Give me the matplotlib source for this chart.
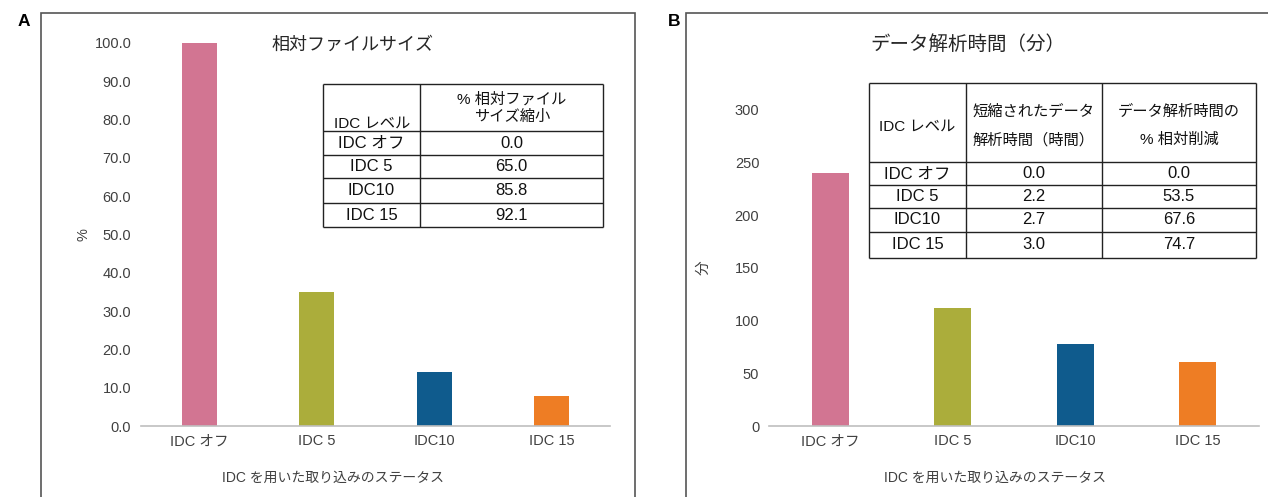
import matplotlib
matplotlib.use("Agg")
import matplotlib.pyplot as plt
from matplotlib.patches import Rectangle

plt.rcParams["font.family"] = ["Liberation Sans", "Noto Sans CJK JP", "DejaVu Sans"]

W, H = 1268, 497

# --- data -------------------------------------------------------------
categories = ["IDC オフ", "IDC 5", "IDC10", "IDC 15"]
bar_colors = ["#D27592", "#ABAD3B", "#0F5B8D", "#EE7D24"]

# A: relative file size (%)
size_pct = [100.0, 35.0, 14.2, 7.9]
size_reduction = ["0.0", "65.0", "85.8", "92.1"]
size_ticks = [0, 10, 20, 30, 40, 50, 60, 70, 80, 90, 100]

# B: data analysis time (min)
time_min = [240.0, 111.6, 77.8, 60.7]
time_saved_h = ["0.0", "2.2", "2.7", "3.0"]
time_reduction = ["0.0", "53.5", "67.6", "74.7"]
time_ticks = [0, 50, 100, 150, 200, 250, 300]

xlabel = "IDC を用いた取り込みのステータス"


def px_axes(fig, x0, y0, x1, y1, **kw):
    """Axes placed by pixel box (top-left origin)."""
    return fig.add_axes([x0 / W, 1 - y1 / H, (x1 - x0) / W, (y1 - y0) / H], **kw)


def bar_panel(ax, values, ymax, ticks, fmt):
    x = range(len(values))
    ax.bar(x, values, width=0.3, color=bar_colors)
    ax.set_xlim(-0.5, len(values) - 0.5)
    ax.set_ylim(0, ymax)
    ax.set_yticks(ticks)
    ax.set_yticklabels([fmt.format(t) for t in ticks])
    ax.set_xticks(list(x))
    ax.set_xticklabels(categories)
    for s in ("top", "right", "left"):
        ax.spines[s].set_visible(False)
    ax.spines["bottom"].set_color("#BFBFBF")
    ax.spines["bottom"].set_linewidth(1.2)
    ax.tick_params(length=0, labelsize=10.5, colors="#404040")
    ax.tick_params(axis="y", pad=7)
    ax.tick_params(axis="x", pad=6)
    ax.patch.set_alpha(0)


def draw_table(fig, box, col_edges, row_edges, header, rows):
    x0, y0, x1, y1 = box
    ax = px_axes(fig, x0, y0, x1, y1)
    ax.set_xlim(x0, x1)
    ax.set_ylim(y1, y0)
    ax.axis("off")
    lw = 1.0
    ax.hlines(row_edges, x0, x1, color="#222222", lw=lw, clip_on=False)
    ax.vlines(col_edges, y0, y1, color="#222222", lw=lw, clip_on=False)
    # header: list of (x, y, text)
    for hx, hy, txt in header:
        ax.text(hx, hy, txt, ha="center", va="center", fontsize=11, color="#111111")
    centers = [(col_edges[i] + col_edges[i + 1]) / 2 for i in range(len(col_edges) - 1)]
    for r, row in enumerate(rows):
        cy = (row_edges[r + 1] + row_edges[r + 2]) / 2
        for c, txt in enumerate(row):
            ax.text(centers[c], cy, txt, ha="center", va="center", fontsize=12, color="#111111")


fig = plt.figure(figsize=(W / 100, H / 100), dpi=100)

# panel frames
fig.patches.append(Rectangle((41 / W, -0.05), (635 - 41) / W, 1.05 - 13 / H,
                             transform=fig.transFigure, fill=False,
                             edgecolor="#555555", lw=1.2))
fig.patches.append(Rectangle((686 / W, -0.05), 0.6, 1.05 - 13 / H,
                             transform=fig.transFigure, fill=False,
                             edgecolor="#555555", lw=1.2))
fig.text(18 / W, 1 - 22 / H, "A", fontsize=12.5, fontweight="bold", va="center")
fig.text(668 / W, 1 - 22 / H, "B", fontsize=12.5, fontweight="bold", va="center")

# --- panel A ---------------------------------------------------------
axA = px_axes(fig, 141, 43, 610, 426)
bar_panel(axA, size_pct, 100, size_ticks, "{:.1f}")
fig.text(84 / W, 1 - 235 / H, "%", rotation=90, ha="center", va="center",
         fontsize=10.5, color="#404040")
fig.text(352 / W, 1 - 45 / H, "相対ファイルサイズ", ha="center", va="center",
         fontsize=13, color="#262626")
fig.text(333 / W, 1 - 478 / H, xlabel, ha="center", va="center",
         fontsize=10, color="#404040")

draw_table(
    fig, (323, 84, 603, 227), [323, 420, 603], [84, 131, 155, 178, 203, 227],
    [(372, 124, "IDC レベル"), (512, 99, "% 相対ファイル"), (512, 117, "サイズ縮小")],
    list(zip(categories, size_reduction)),
)

# --- panel B ---------------------------------------------------------
axB = px_axes(fig, 769, 110, 1259, 426)
bar_panel(axB, time_min, 300, time_ticks, "{:.0f}")
fig.text(703 / W, 1 - 268 / H, "分", rotation=90, ha="center", va="center",
         fontsize=10.5, color="#404040")
fig.text(968 / W, 1 - 45 / H, "データ解析時間（分）", ha="center", va="center",
         fontsize=14, color="#262626")
fig.text(995 / W, 1 - 478 / H, xlabel, ha="center", va="center",
         fontsize=10, color="#404040")

draw_table(
    fig, (869, 83, 1256, 258), [869, 966, 1102, 1256], [83, 162, 185, 208, 232, 258],
    [(917, 127, "IDC レベル"),
     (1034, 112, "短縮されたデータ"), (1034, 140, "解析時間（時間）"),
     (1179, 112, "データ解析時間の"), (1179, 140, "% 相対削減")],
    list(zip(categories, time_saved_h, time_reduction)),
)

fig.savefig("out.png", dpi=100)
